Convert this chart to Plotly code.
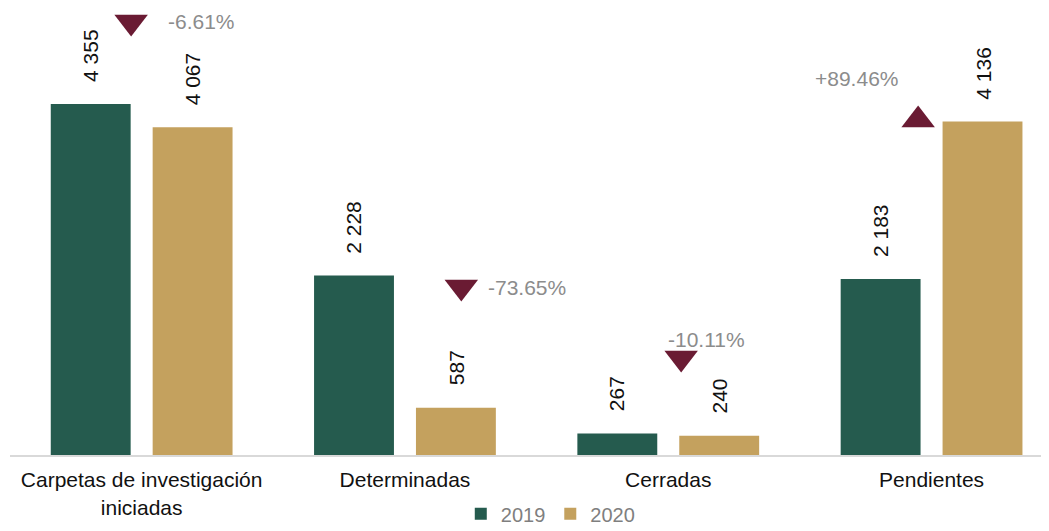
import plotly.graph_objects as go

categories = ["Carpetas de investigación<br>iniciadas", "Determinadas", "Cerradas", "Pendientes"]
values_2019 = [4355, 2228, 267, 2183]
values_2020 = [4067, 587, 240, 4136]
labels_2019 = ["4 355", "2 228", "267", "2 183"]
labels_2020 = ["4 067", "587", "240", "4 136"]

# change indicators (triangle position in data units, label, direction)
change_labels = ["-6.61%", "-73.65%", "-10.11%", "+89.46%"]
change_x = [-0.04, 1.214, 2.049, 2.949]
change_y = [5372, 2084, 1203, 4156]
change_symbols = ["triangle-down", "triangle-down", "triangle-down", "triangle-up"]
label_x = [0.228, 1.465, 2.144, 2.717]
label_y = [5372, 2084, 1427, 4665]

GREEN = "#255B4E"
GOLD = "#C4A15E"
MAROON = "#6A1B33"
FONT = "Liberation Sans, Arial, sans-serif"

xpos = list(range(len(categories)))

fig = go.Figure()
fig.add_trace(go.Bar(x=xpos, y=values_2019, name="2019", marker_color=GREEN,
                     marker_line_width=0))
fig.add_trace(go.Bar(x=xpos, y=values_2020, name="2020", marker_color=GOLD,
                     marker_line_width=0))

fig.add_trace(go.Scatter(x=change_x, y=change_y, mode="markers",
                         marker=dict(symbol=change_symbols, size=29, color=MAROON,
                                     line=dict(width=0)),
                         showlegend=False, hoverinfo="skip", cliponaxis=False))

off = 0.194
for i in xpos:
    fig.add_annotation(x=i - off, y=values_2019[i], text=labels_2019[i], textangle=-90,
                       showarrow=False, yanchor="bottom", yshift=20,
                       font=dict(family=FONT, size=21, color="#111111"))
    fig.add_annotation(x=i + off, y=values_2020[i], text=labels_2020[i], textangle=-90,
                       showarrow=False, yanchor="bottom", yshift=20,
                       font=dict(family=FONT, size=21, color="#111111"))

for i in range(len(change_labels)):
    fig.add_annotation(x=label_x[i], y=label_y[i], text=change_labels[i], showarrow=False,
                       xanchor="center", yanchor="middle",
                       font=dict(family=FONT, size=21, color="#8C8C8C"))

# page body adds an 8px offset, so the figure is drawn 8px smaller and shifted
fig.update_layout(
    width=1041, height=523,
    margin=dict(l=2, r=0, t=2, b=76, autoexpand=False),
    paper_bgcolor="white", plot_bgcolor="white",
    barmode="group", bargap=0.226, bargroupgap=0.216,
    font=dict(family=FONT, size=21, color="#111111"),
    showlegend=True,
    legend=dict(orientation="h", x=0.52, xanchor="center", y=-0.132, yanchor="middle",
                font=dict(family=FONT, size=20, color="#7F7F7F"),
                itemwidth=30, traceorder="normal"),
    xaxis=dict(tickmode="array", tickvals=xpos, ticktext=categories,
               range=[-0.5, 3.446], showgrid=False, zeroline=False,
               showline=True, linecolor="#D9D9D9", linewidth=2,
               ticks="", ticklabelstandoff=5, automargin=False,
               tickfont=dict(family=FONT, size=21, color="#111111")),
    yaxis=dict(range=[0, 5520], visible=False, showgrid=False, zeroline=False,
               automargin=False),
)

fig.write_html("out.html")
